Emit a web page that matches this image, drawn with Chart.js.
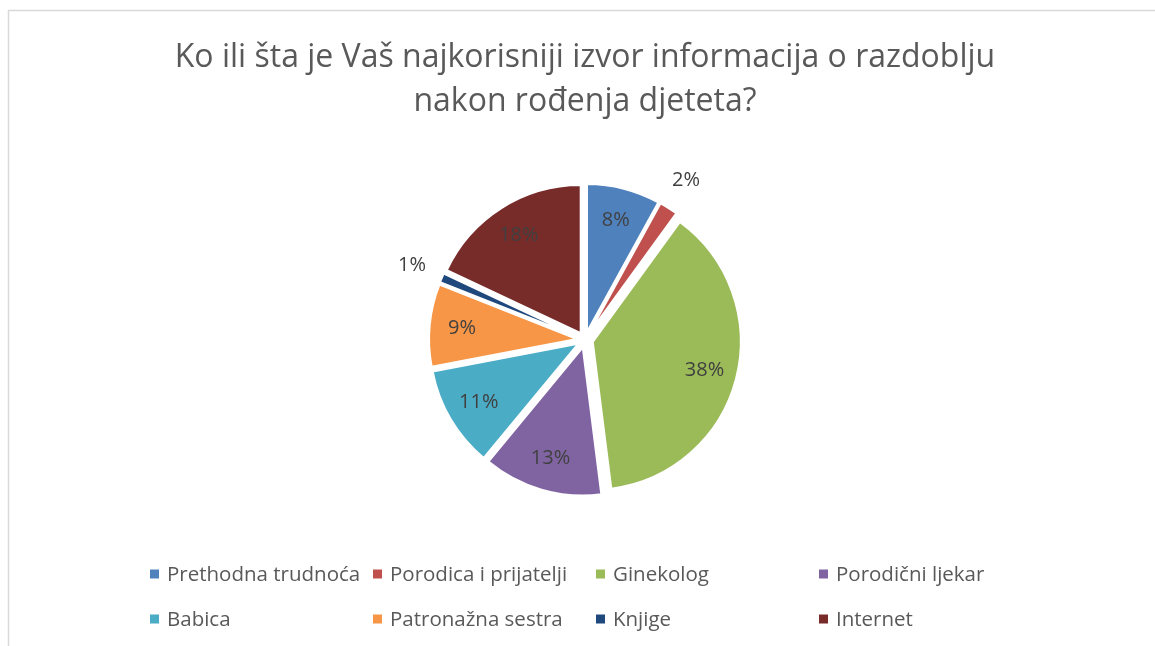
<!DOCTYPE html>
<html>
<head>
<meta charset="utf-8">
<script src="https://cdn.jsdelivr.net/npm/chart.js@4/dist/chart.umd.min.js"></script>
<style>
  html, body { margin: 0; padding: 0; background: #fff; }
  #wrap { width: 1155px; height: 646px; position: relative; }
</style>
</head>
<body>
<div id="wrap"><canvas id="pieChart" width="1155" height="646"></canvas></div>
<script>
// podaci sa grafikona
const titleLines = ['Ko ili šta je Vaš najkorisniji izvor informacija o razdoblju', 'nakon rođenja djeteta?'];
const categories = ['Prethodna trudnoća', 'Porodica i prijatelji', 'Ginekolog', 'Porodični ljekar', 'Babica', 'Patronažna sestra', 'Knjige', 'Internet'];
const shares = [8, 2, 38, 13, 11, 9, 1, 18];
const sliceColors = ['#4F81BD', '#C0504D', '#9BBB59', '#8064A2', '#4BACC6', '#F79646', '#1F497D', '#772C2A'];

const FONT = '"Open Sans", sans-serif';
const EXPLODE = 8; // koliko su kriške odmaknute od centra (px)

// okvir oko grafikona (gornja i lijeva linija)
const framePlugin = {
  id: 'frame',
  beforeDraw(chart) {
    const ctx = chart.ctx;
    ctx.save();
    ctx.strokeStyle = '#D9D9D9';
    ctx.lineWidth = 1.5;
    ctx.beginPath();
    ctx.moveTo(8.5, chart.height);
    ctx.lineTo(8.5, 10.5);
    ctx.lineTo(chart.width, 10.5);
    ctx.stroke();
    ctx.restore();
  }
};

// "eksplodirane" kriške kao u Excelu: svaka se pomjera za isti razmak
const explodePlugin = {
  id: 'explode',
  beforeDatasetsDraw(chart) {
    chart.getDatasetMeta(0).data.forEach((arc) => {
      if (arc._exploded) return;
      const baseDraw = arc.draw.bind(arc);
      arc.draw = function (ctx) {
        const mid = (this.startAngle + this.endAngle) / 2;
        ctx.save();
        ctx.translate(Math.cos(mid) * EXPLODE, Math.sin(mid) * EXPLODE);
        baseDraw(ctx);
        ctx.restore();
      };
      arc._exploded = true;
    });
  }
};

// postoci na kriškama
const sliceLabels = {
  id: 'sliceLabels',
  afterDatasetsDraw(chart) {
    const ctx = chart.ctx;
    const meta = chart.getDatasetMeta(0);
    const ds = chart.data.datasets[0];
    const total = ds.data.reduce((a, b) => a + b, 0);
    ctx.save();
    ctx.font = '20px ' + FONT;
    ctx.fillStyle = '#404040';
    ctx.textAlign = 'center';
    ctx.textBaseline = 'middle';
    meta.data.forEach((arc, i) => {
      const p = arc.getProps(['x', 'y', 'startAngle', 'endAngle', 'outerRadius'], true);
      const mid = (p.startAngle + p.endAngle) / 2;
      const pct = Math.round(ds.data[i] / total * 100);
      const dist = pct < 5 ? EXPLODE + p.outerRadius * 1.22 : EXPLODE + p.outerRadius * 0.78;
      ctx.fillText(pct + '%', p.x + Math.cos(mid) * dist, p.y + Math.sin(mid) * dist);
    });
    ctx.restore();
  }
};

// legenda u 4 kolone
const gridLegend = {
  id: 'gridLegend',
  afterDraw(chart) {
    const ctx = chart.ctx;
    const labels = chart.data.labels;
    const colors = chart.data.datasets[0].backgroundColor;
    ctx.save();
    ctx.font = '20.5px ' + FONT;
    ctx.textBaseline = 'middle';
    labels.forEach((lab, i) => {
      const col = i % 4;
      const row = Math.floor(i / 4);
      const x = 150 + col * 223;
      const y = 574 + row * 45;
      ctx.fillStyle = colors[i];
      ctx.fillRect(x, y - 4.5, 9, 9);
      ctx.fillStyle = '#595959';
      ctx.fillText(lab, x + 17, y + 1);
    });
    ctx.restore();
  }
};

const ctx = document.getElementById('pieChart').getContext('2d');
new Chart(ctx, {
  type: 'pie',
  data: {
    labels: categories,
    datasets: [{
      data: shares,
      backgroundColor: sliceColors,
      borderColor: '#ffffff',
      borderWidth: 2,
      radius: 148
    }]
  },
  options: {
    responsive: false,
    animation: false,
    events: [],
    layout: { padding: { left: 15, right: 0, top: 0, bottom: 150 } },
    plugins: {
      legend: { display: false },
      tooltip: { enabled: false },
      title: {
        display: true,
        text: titleLines,
        color: '#595959',
        font: { family: FONT, size: 32, weight: 'normal', lineHeight: 1.4 },
        padding: { top: 35, bottom: 59 }
      }
    }
  },
  plugins: [framePlugin, explodePlugin, sliceLabels, gridLegend]
});
</script>
</body>
</html>
